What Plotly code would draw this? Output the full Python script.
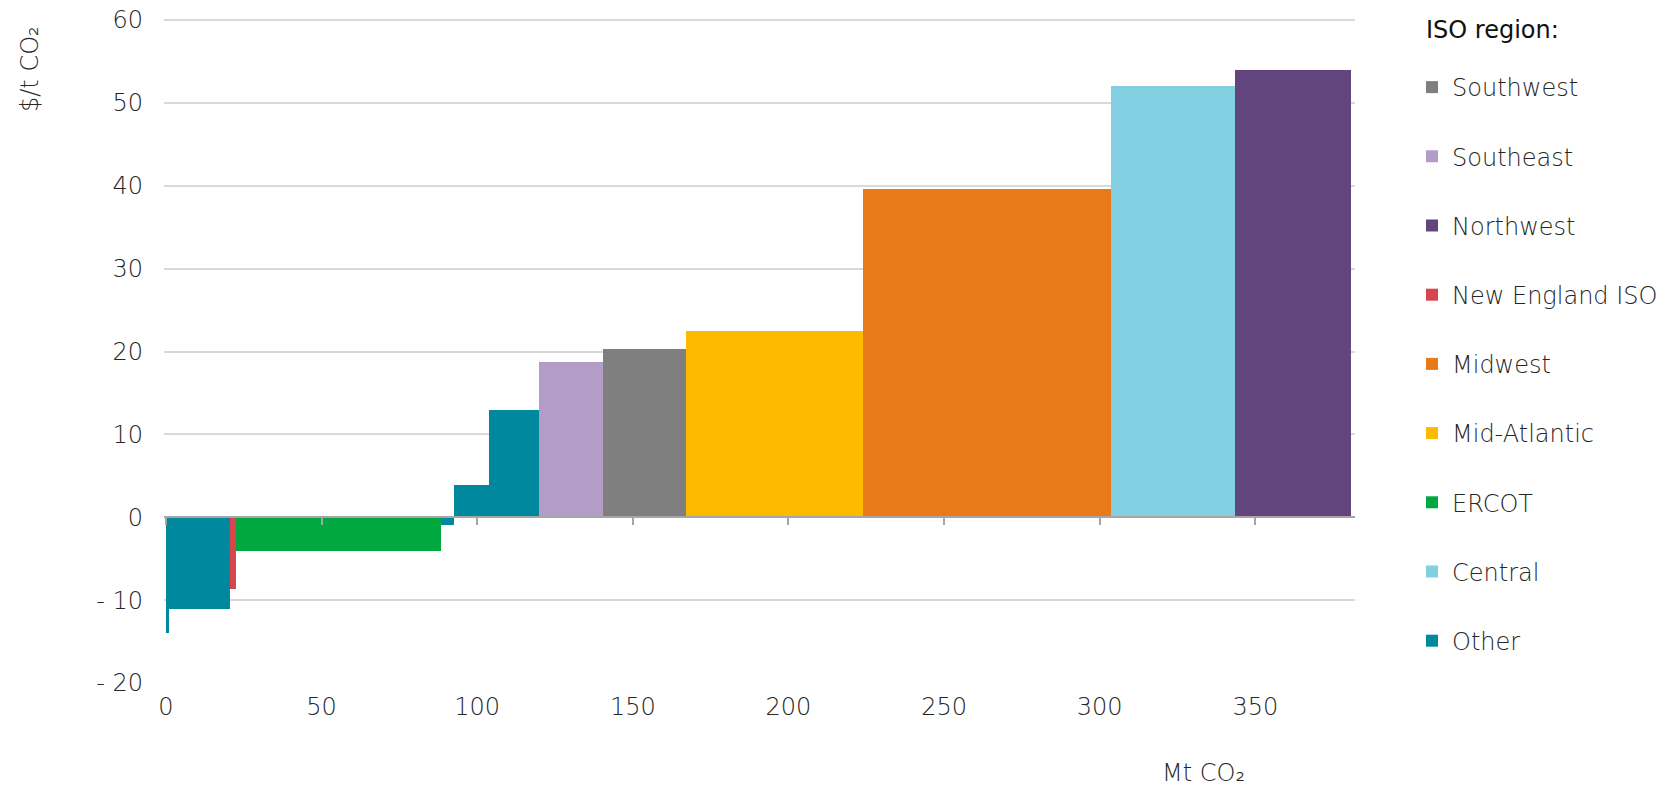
import plotly.graph_objects as go

# Data (segments in merit order)
seg_regions = ["Other", "Other", "New England ISO", "ERCOT", "Other", "Other", "Other",
               "Southeast", "Southwest", "Mid-Atlantic", "Midwest", "Central", "Northwest"]
seg_widths = [1.0, 19.6, 1.8, 65.9, 4.3, 11.3, 16.0, 20.6, 26.5, 57.1, 79.6, 39.6, 37.5]
seg_costs = [-14.0, -11.1, -8.6, -4.1, -0.9, 3.9, 12.9, 18.7, 20.3, 22.5, 39.6, 52.0, 54.0]

legend_order = ["Southwest", "Southeast", "Northwest", "New England ISO", "Midwest",
                "Mid-Atlantic", "ERCOT", "Central", "Other"]
region_colors = {
    "Southwest": "#7f7f7f",
    "Southeast": "#b49cc9",
    "Northwest": "#63457d",
    "New England ISO": "#d5474d",
    "Midwest": "#e97a1b",
    "Mid-Atlantic": "#fdbb00",
    "ERCOT": "#00a83f",
    "Central": "#83cfe2",
    "Other": "#00889e",
}

y_ticks = [-20, -10, 0, 10, 20, 30, 40, 50, 60]
y_ticktext = ["- 20", "- 10", "0", "10", "20", "30", "40", "50", "60"]
x_ticks = [0, 50, 100, 150, 200, 250, 300, 350]

# cumulative positions
lefts = []
acc = 0.0
for w in seg_widths:
    lefts.append(acc)
    acc += w
mids = [l + w / 2 for l, w in zip(lefts, seg_widths)]

FONT = "DejaVu Sans"
W = 300
FS = 24
TXT = "#262626"

# page body has an 8px margin, so the figure is laid out 8px smaller
FW, FH = 1658, 781
PL, PT, PW, PH = 156, 10, 1191, 665
Y_TOP = 60.25


def px_x(fx):
    return (fx - PL) / PW


def px_y(fy):
    return 1 - (fy - PT) / PH


fig = go.Figure()
for reg in legend_order:
    idx = [i for i, r in enumerate(seg_regions) if r == reg]
    fig.add_trace(go.Bar(
        x=[mids[i] for i in idx],
        y=[seg_costs[i] for i in idx],
        width=[seg_widths[i] for i in idx],
        name=reg,
        legendgroup=reg,
        marker=dict(color=region_colors[reg], line=dict(width=0)),
        hoverinfo="x+y+name",
    ))

# invisible trace on overlay axis to draw zero-axis line with ticks
fig.add_trace(go.Scatter(x=[0, 380], y=[0, 0], xaxis="x2", mode="lines",
                         line=dict(width=0), showlegend=False, hoverinfo="skip"))

zero_frac = 20 / (Y_TOP + 20)

fig.update_layout(
    width=FW, height=FH,
    paper_bgcolor="white", plot_bgcolor="white",
    margin=dict(l=PL, r=FW - PL - PW, t=PT, b=FH - PT - PH, autoexpand=False),
    barmode="overlay",
    bargap=0,
    font=dict(family=FONT, size=FS, color=TXT, weight=W),
    xaxis=dict(range=[-0.6, 382], tickvals=x_ticks, showgrid=False, zeroline=False,
               showline=False, ticks="", ticklabelstandoff=7, automargin=False,
               ticklabeloverflow="allow",
               tickfont=dict(family=FONT, size=FS, color=TXT, weight=W)),
    xaxis2=dict(range=[-0.6, 382], overlaying="x", anchor="free", position=zero_frac,
                side="bottom", tickvals=x_ticks, showticklabels=False, ticks="outside",
                ticklen=7, tickwidth=2, tickcolor="#a6a6a6", showline=True,
                linecolor="#a6a6a6", linewidth=2, showgrid=False, zeroline=False),
    yaxis=dict(range=[-20, Y_TOP], tickvals=y_ticks, ticktext=y_ticktext,
               showgrid=True, gridcolor="#d9d9d9", gridwidth=2, zeroline=False,
               showline=False, ticks="", ticklabelstandoff=20, automargin=False,
               ticklabeloverflow="allow",
               tickfont=dict(family=FONT, size=FS, color=TXT, weight=W)),
    legend=dict(
        xref="container", yref="container",
        x=1404 / FW, y=1 - 57 / FH, xanchor="left", yanchor="top",
        traceorder="grouped", tracegroupgap=35, maxheight=740,
        font=dict(family=FONT, size=FS, color=TXT, weight=W),
        itemwidth=30, bgcolor="rgba(0,0,0,0)",
    ),
    annotations=[
        dict(text="ISO region:", xref="paper", yref="paper",
             x=px_x(1416), y=px_y(22), xanchor="left", yanchor="middle",
             showarrow=False, font=dict(family=FONT, size=FS, color="#111111", weight=400)),
        dict(text="$/t CO₂", textangle=-90, xref="paper", yref="paper",
             x=px_x(22), y=px_y(16), xanchor="center", yanchor="top",
             showarrow=False, font=dict(family=FONT, size=FS, color=TXT, weight=W)),
        dict(text="Mt CO₂", xref="paper", yref="paper", x=px_x(1195),
             y=px_y(765), xanchor="center", yanchor="middle", showarrow=False,
             font=dict(family=FONT, size=FS, color=TXT, weight=W)),
    ],
)

fig.write_html("out.html")
